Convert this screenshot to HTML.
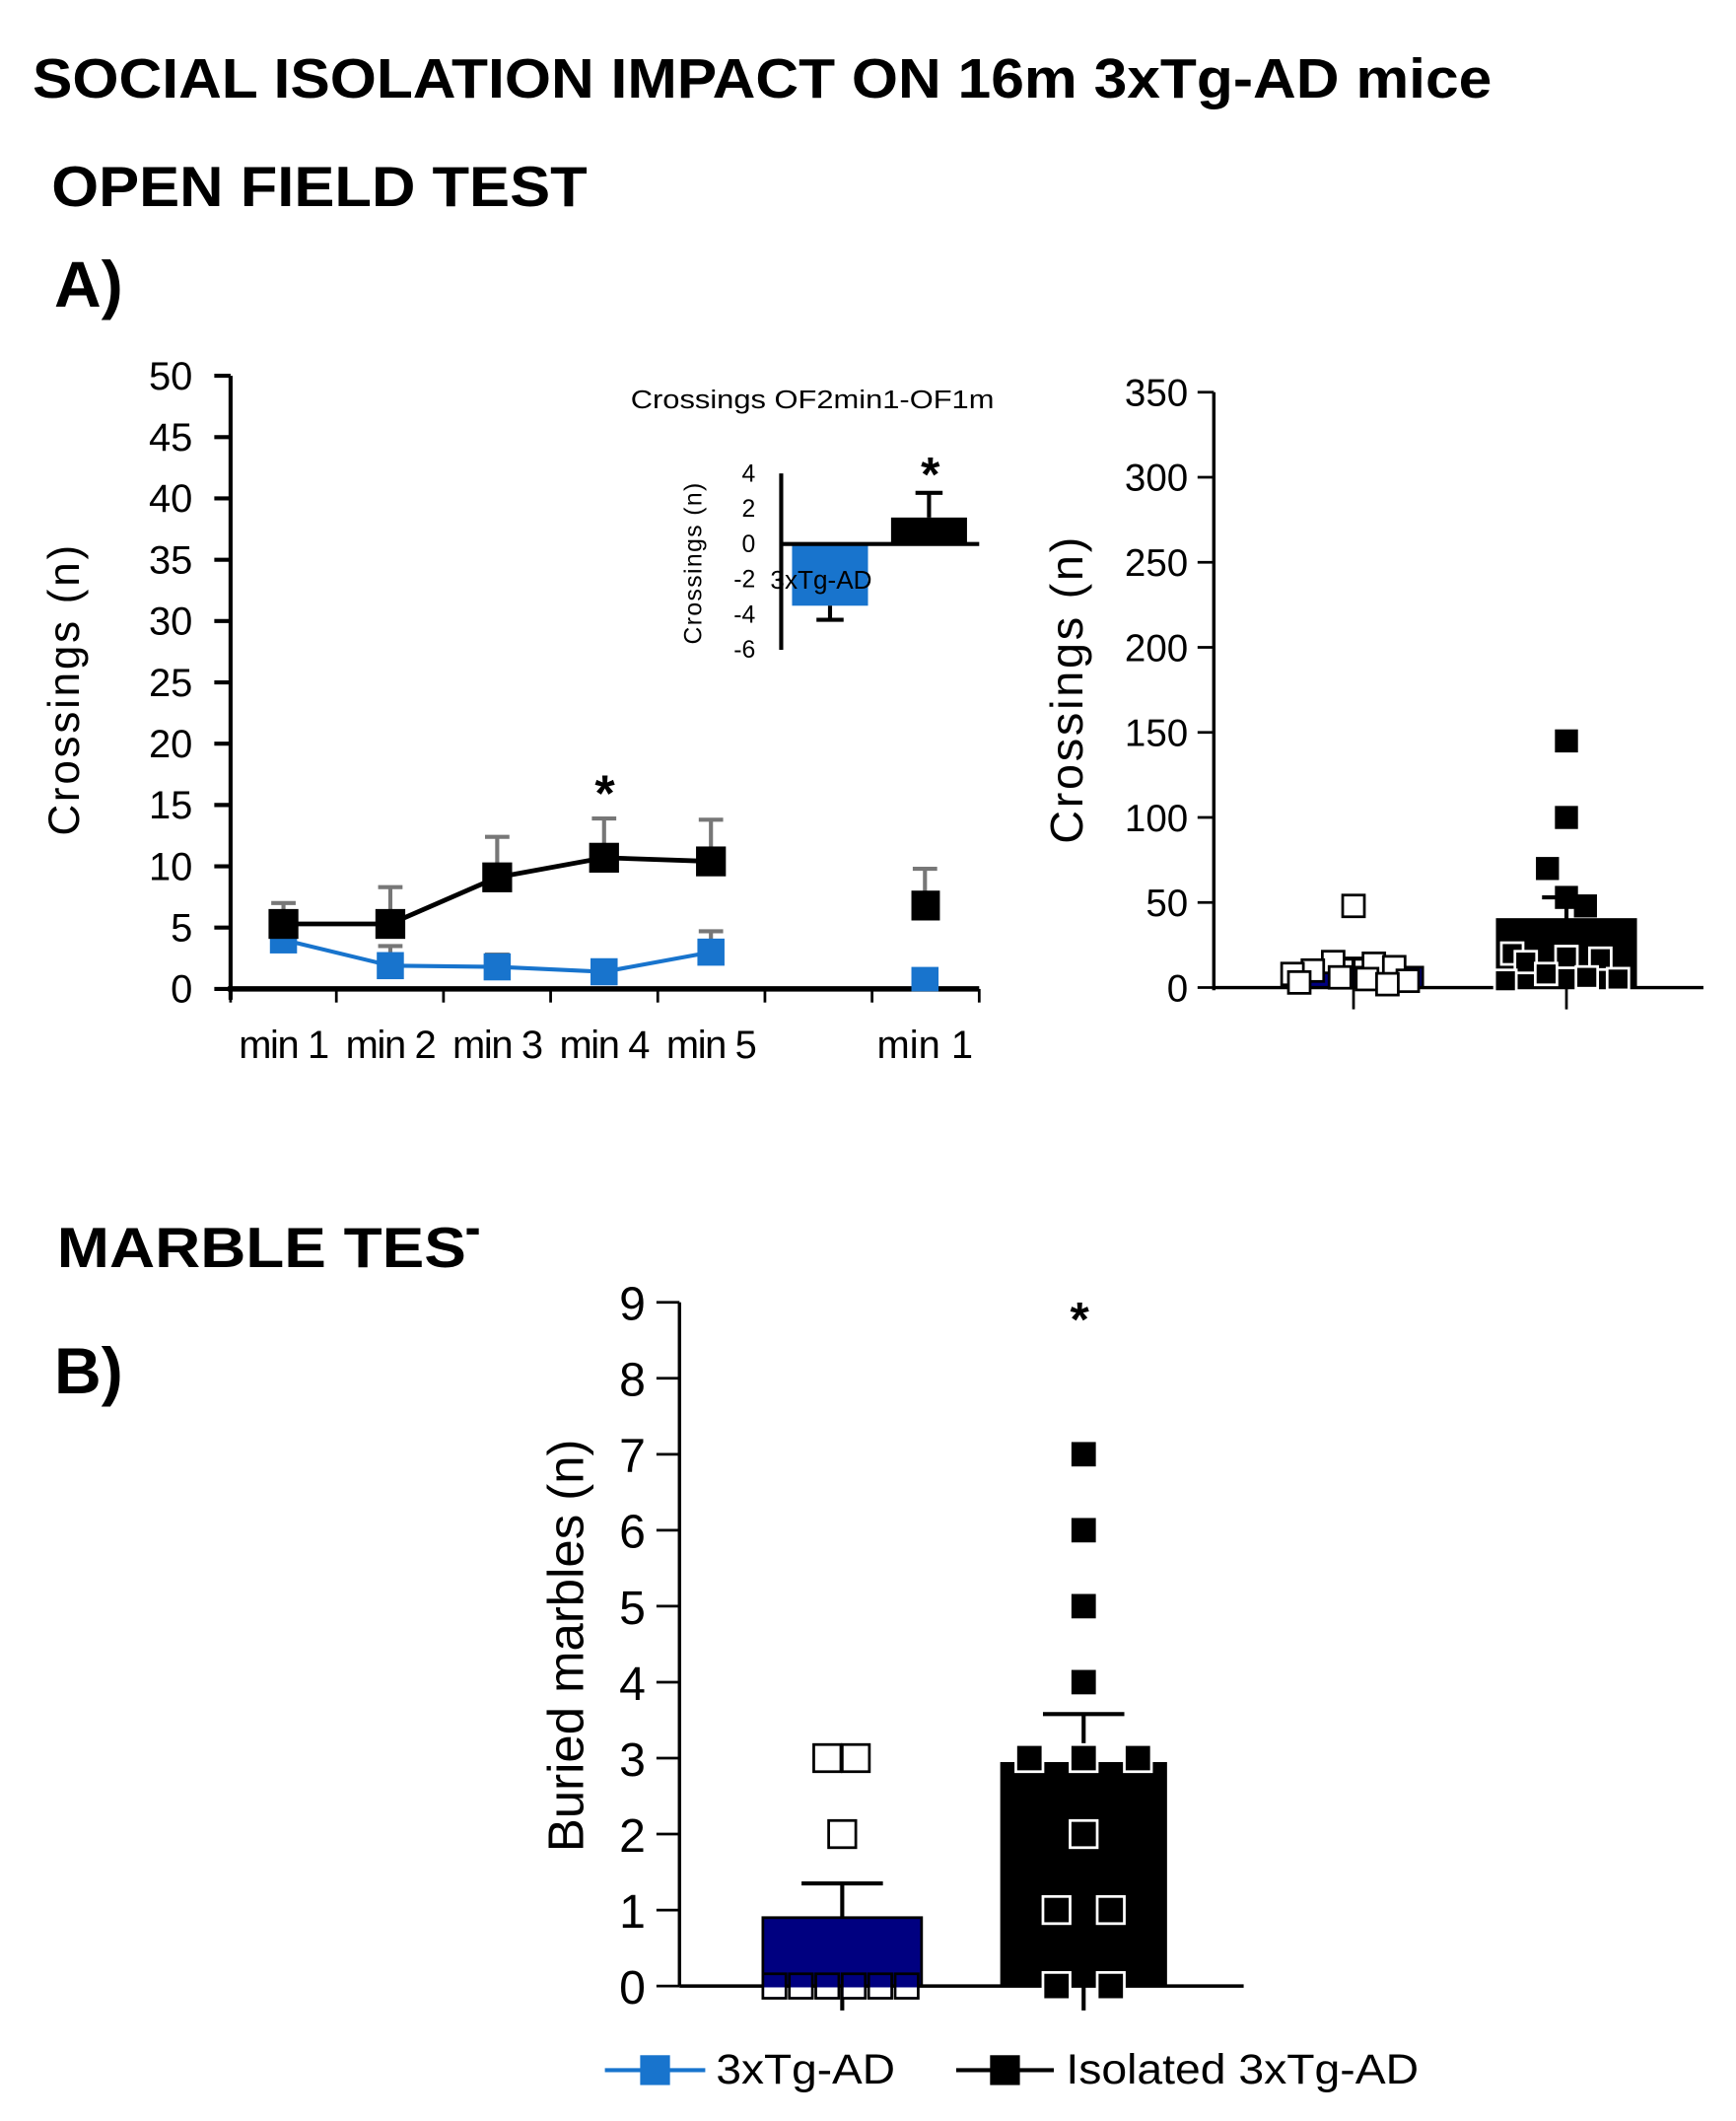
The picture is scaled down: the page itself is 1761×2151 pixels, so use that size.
<!DOCTYPE html>
<html><head><meta charset="utf-8"><style>
html,body{margin:0;padding:0;background:#fff;}
svg{display:block;font-family:"Liberation Sans",Arial,sans-serif;}
</style></head><body>
<svg id="s" width="1761" height="2151" viewBox="0 0 1280 1563.5">
<defs><clipPath id="mclip"><rect x="0" y="880" width="353" height="80"/></clipPath></defs>
<text x="24" y="72" font-size="41" font-weight="bold" textLength="1076" lengthAdjust="spacingAndGlyphs">SOCIAL ISOLATION IMPACT ON 16m 3xTg-AD mice</text>
<text x="38" y="152" font-size="42" font-weight="bold" textLength="395" lengthAdjust="spacingAndGlyphs">OPEN FIELD TEST</text>
<text x="40" y="226" font-size="48" font-weight="bold">A)</text>
<text x="42" y="934" font-size="42" font-weight="bold" textLength="330" lengthAdjust="spacingAndGlyphs" clip-path="url(#mclip)">MARBLE TEST</text>
<text x="40" y="1027" font-size="48" font-weight="bold">B)</text>
<g id="g"></g>
</svg>
<script>
// line chart data
const minutes=["min 1","min 2","min 3","min 4","min 5"];
const isoLine=[5.3,5.3,9.1,10.7,10.4];
const isoErr=[7.0,8.3,12.4,13.9,13.8];
const ctlLine=[4.0,1.9,1.8,1.4,3.0];
const ctlErr=[4.5,3.5,2.8,2.2,4.7];
const min1Iso=6.8, min1IsoErr=9.8, min1Ctl=0.8;
const lineTicks=[0,5,10,15,20,25,30,35,40,45,50];
// inset data
const insetVals=[-3.5,1.5];
const insetErr=[-4.3,2.9];
const insetTicks=[4,2,0,-2,-4,-6];
// total crossings data
const totalMeans=[12,40];
const totalErr=[17,53];
const totalCtlPts=[48,15,14,12,10,8,6,5,4,3,2];
const totalIsoPts=[145,100,70,53,48,20,18,17,15,8,6,5,4];
const totalTicks=[0,50,100,150,200,250,300,350];
// marble data
const marbleMeans=[0.9,2.93];
const marbleErr=[1.35,3.58];
const marbleCtlPts=[[0,0],[0,1],[0,2],[0,3],[0,4],[0,5],[2,2.5],[3,2],[3,3]];
const marbleIsoPts=[[7,2],[6,2],[5,2],[4,2],[3,0],[3,2],[3,4],[2,2],[1,1],[1,3],[0,1],[0,3]];
const marbleTicks=[0,1,2,3,4,5,6,7,8,9];

const NS="http://www.w3.org/2000/svg";
const G=document.getElementById('g');
function el(t,a,p){const e=document.createElementNS(NS,t);for(const k in a)e.setAttribute(k,a[k]);(p||G).appendChild(e);return e;}
function txt(x,y,s,a){const e=el('text',Object.assign({x:x,y:y},a||{}));e.textContent=s;return e;}

// ---- line chart
const ly=v=>729-v*9.04;
const lx=i=>209+i*78.8;
el('line',{x1:170,y1:ly(50),x2:170,y2:737,stroke:'#000','stroke-width':3});
el('line',{x1:168,y1:729,x2:722,y2:729,stroke:'#000','stroke-width':4});
[170,248,327,406,485,564,643,722].forEach(x=>el('line',{x1:x,y1:729,x2:x,y2:739,stroke:'#000','stroke-width':2}));
lineTicks.forEach(t=>{el('line',{x1:158,y1:ly(t),x2:170,y2:ly(t),stroke:'#000','stroke-width':3});
 const e=txt(142,ly(t)+10,String(t),{'font-size':29,'text-anchor':'end'});
 
 });
minutes.forEach((m,i)=>{const e=txt(lx(i),780,m,{'font-size':29,'text-anchor':'middle','letter-spacing':'-1'});
 
 });
txt(682,780,"min 1",{'font-size':29,'text-anchor':'middle'});
let yl=txt(0,0,"Crossings (n)",{'font-size':32,'text-anchor':'middle',transform:'translate(58,508) rotate(-90)','letter-spacing':'2'});


function errBar(x,y1,y2,c,w){el('line',{x1:x,y1:y1,x2:x,y2:y2,stroke:c,'stroke-width':3});el('line',{x1:x-w,y1:y2,x2:x+w,y2:y2,stroke:c,'stroke-width':3});}
isoLine.forEach((v,i)=>errBar(lx(i),ly(v),ly(isoErr[i]),'#777',9));
ctlLine.forEach((v,i)=>errBar(lx(i),ly(v),ly(ctlErr[i]),'#777',9));
errBar(682,ly(min1Iso),ly(min1IsoErr),'#777',9);
el('polyline',{points:ctlLine.map((v,i)=>lx(i)+','+ly(v)).join(' '),fill:'none',stroke:'#1874cd','stroke-width':3});
el('polyline',{points:isoLine.map((v,i)=>lx(i)+','+ly(v)).join(' '),fill:'none',stroke:'#000','stroke-width':3.5});
ctlLine.forEach((v,i)=>{const r=el('rect',{x:lx(i)-10,y:ly(v)-10,width:20,height:20,fill:'#1874cd'});
 
 });
isoLine.forEach((v,i)=>{const r=el('rect',{x:lx(i)-11,y:ly(v)-11,width:22,height:22,fill:'#000'});
 
 });
el('rect',{x:672,y:ly(min1Ctl)-9,width:20,height:18,fill:'#1874cd'});
el('rect',{x:672,y:ly(min1Iso)-11,width:21,height:22,fill:'#000'});
txt(446,598,"*",{'font-size':38,'text-anchor':'middle','font-weight':'bold'});

// ---- inset
const iy=v=>401-v*13;
txt(465,301,"Crossings OF2min1-OF1m",{'font-size':19,textLength:268,lengthAdjust:'spacingAndGlyphs'});
el('line',{x1:576,y1:iy(4),x2:576,y2:iy(-6),stroke:'#000','stroke-width':3});
insetTicks.forEach(t=>txt(557,iy(t)+6,String(t),{'font-size':18,'text-anchor':'end'}));
txt(0,0,"Crossings (n)",{'font-size':18,'text-anchor':'middle',transform:'translate(517,415) rotate(-90)','letter-spacing':'1'});
const ix=[612,685], icol=['#1874cd','#000'];
insetVals.forEach((v,i)=>{const r=el('rect',{x:ix[i]-28,y:Math.min(iy(v),iy(0)),width:56,height:Math.abs(iy(v)-iy(0)),fill:icol[i]});
 
 
 errBar(ix[i],iy(v),iy(insetErr[i]),'#000',10);});
el('line',{x1:576,y1:iy(0),x2:722,y2:iy(0),stroke:'#000','stroke-width':3});
txt(568,434,"3xTg-AD",{'font-size':19});
txt(686,362,"*",{'font-size':36,'text-anchor':'middle','font-weight':'bold'});

// ---- total crossings
const ty=v=>728-v*1.254;
el('line',{x1:895,y1:ty(350),x2:895,y2:730,stroke:'#000','stroke-width':2.5});
totalTicks.forEach(t=>{el('line',{x1:883,y1:ty(t),x2:895,y2:ty(t),stroke:'#000','stroke-width':2});
 txt(876,ty(t)+10,String(t),{'font-size':28,'text-anchor':'end'});});
txt(0,0,"Crossings (n)",{'font-size':34,'text-anchor':'middle',transform:'translate(798,508) rotate(-90)','letter-spacing':'2'});
const tx=[998,1155], tcol=['#000080','#000'];
totalMeans.forEach((v,i)=>{const r=el('rect',{x:tx[i]-51,y:ty(v),width:102,height:ty(0)-ty(v),fill:tcol[i],stroke:'#000','stroke-width':2});
 
 
 el('line',{x1:tx[i],y1:ty(v)-5,x2:tx[i],y2:ty(0)+16,stroke:'#000','stroke-width':2});
 el('line',{x1:tx[i]-18,y1:ty(totalErr[i]),x2:tx[i]+18,y2:ty(totalErr[i]),stroke:'#000','stroke-width':3});
 el('line',{x1:tx[i],y1:ty(totalErr[i]),x2:tx[i],y2:ty(v),stroke:'#000','stroke-width':3});});
el('line',{x1:895,y1:728,x2:1256,y2:728,stroke:'#000','stroke-width':2.5});
totalCtlPts.forEach((v,i)=>{const dx=[0,-15,15,30,-30,-45,-10,10,40,-40,25][i];
 el('rect',{x:tx[0]+dx-8,y:ty(v)-8,width:16,height:16,fill:'#fff',stroke:'#000','stroke-width':2});});
totalIsoPts.forEach((v,i)=>{const dx=[0,0,-14,0,14,-40,0,25,-30,-15,15,38,-45][i];
 const open=v<25;
 el('rect',{x:tx[1]+dx-8,y:ty(v)-8,width:16,height:16,fill:'#000',stroke:open?'#fff':'#000','stroke-width':open?2:1});});

// ---- marble
const my=v=>1464-v*56;
el('line',{x1:501,y1:my(9),x2:501,y2:1464,stroke:'#000','stroke-width':2.5});
marbleTicks.forEach(t=>{el('line',{x1:484,y1:my(t),x2:501,y2:my(t),stroke:'#000','stroke-width':2});
 txt(476,my(t)+13,String(t),{'font-size':35,'text-anchor':'end'});});
txt(0,0,"Buried marbles (n)",{'font-size':37,'text-anchor':'middle',transform:'translate(430,1213) rotate(-90)'});
const mx=[621,799], mcol=['#000080','#000'];
marbleMeans.forEach((v,i)=>{const w=i?121:117;
 const r=el('rect',{x:mx[i]-w/2,y:my(v),width:w,height:my(0)-my(v),fill:mcol[i],stroke:'#000','stroke-width':2});
 
 
 el('line',{x1:mx[i],y1:my(marbleErr[i]),x2:mx[i],y2:my(v),stroke:'#000','stroke-width':3});
 el('line',{x1:mx[i],y1:my(0),x2:mx[i],y2:my(0)+18,stroke:'#000','stroke-width':3});
 el('line',{x1:mx[i]-30,y1:my(marbleErr[i]),x2:mx[i]+30,y2:my(marbleErr[i]),stroke:'#000','stroke-width':3});});
el('line',{x1:501,y1:1464,x2:917,y2:1464,stroke:'#000','stroke-width':2.5});
marbleCtlPts.forEach(p=>{const v=p[0],k=p[1];const x=v===0?571+k*19.5:(v===2?621:(k===2?610:631));
 const s=v===0?17:20;
 el('rect',{x:x-s/2,y:my(v)-(v===0?9:s/2),width:s,height:v===0?18:s,fill:v===0?'#000080':'#fff',stroke:'#000','stroke-width':2});
 if(v===0) el('rect',{x:x-s/2+1,y:my(0)+1,width:s-2,height:7,fill:'#fff'});});
marbleIsoPts.forEach(p=>{const v=p[0],k=p[1];const x=759+k*20;
 el('rect',{x:x-10,y:my(v)-10,width:20,height:20,fill:'#000',stroke:'#fff','stroke-width':2});});
txt(796,985,"*",{'font-size':36,'text-anchor':'middle','font-weight':'bold'});

// ---- legend
el('line',{x1:446,y1:1526,x2:520,y2:1526,stroke:'#1874cd','stroke-width':3});
el('rect',{x:472,y:1515,width:22,height:22,fill:'#1874cd'});
let l1=txt(528,1536,"3xTg-AD",{'font-size':31,textLength:132,lengthAdjust:'spacingAndGlyphs'});


el('line',{x1:705,y1:1526,x2:777,y2:1526,stroke:'#000','stroke-width':3});
el('rect',{x:730,y:1515,width:22,height:22,fill:'#000'});
let l2=txt(786,1536,"Isolated 3xTg-AD",{'font-size':31,textLength:260,lengthAdjust:'spacingAndGlyphs'});


</script>
</body></html>
